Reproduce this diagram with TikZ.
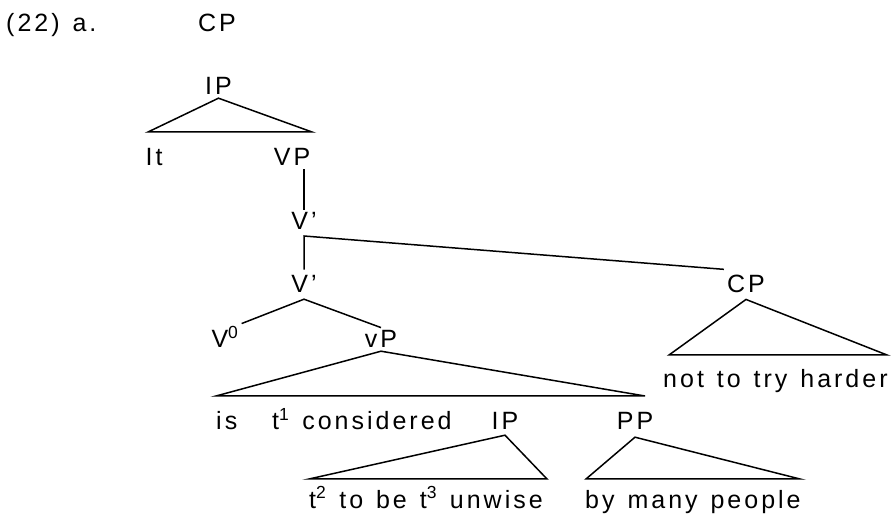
\documentclass[tikz,border=0pt]{standalone}
\usepackage{fontspec}
\setmainfont{Liberation Sans}[LetterSpace=12, WordSpace=1.3]
\usetikzlibrary{positioning}

\begin{document}
\begin{tikzpicture}[
    x=1pt, y=-1pt,
    every node/.style={font=\fontsize{25}{29}\selectfont, inner sep=3pt, anchor=base},
    words/.style={anchor=base west, inner sep=0pt},
    branch/.style={line width=1.5pt}
]
\useasboundingbox (0,0) rectangle (892,518);
% Example number and root
\node[words] (exnum) at (6,32) {(22) a.};
\node (cproot) at (217,32) {CP};
% IP over It and VP
\node (iptop) at (218.5,95) {IP};
\coordinate (iptopL) at (148,132);
\coordinate (iptopR) at (312,132);
\draw[branch] (iptopL) -- (iptop.south) -- (iptopR) -- cycle;
\node (it) at (154,166) {It};
\node (vp) at (292,166) {VP};
% V' levels
\node (vbarA) at (304,230) {V'};
\node[inner ysep=6pt] (vbarB) at (304,293) {V'};
\coordinate[below=6pt of vbarA.base] (vjoin);
\draw[branch] (vbarA.north |- vp.south) -- (vbarA.north);
% Extraposed CP
\node[inner ysep=6pt] (cpext) at (746,293) {CP};
\draw[branch] (vbarB.north) -- (vjoin) -- (cpext.north west);
\coordinate (cpextL) at (669,355);
\coordinate (cpextR) at (887,355);
\draw[branch] (cpextL) -- (cpext.south) -- (cpextR) -- cycle;
\node[words] (harder) at (663,388) {not to try harder};
% V0 and vP
\node (vzero) at (225,348) {V\textsuperscript{0}};
\node (vlow) at (381,348) {vP};
\draw[branch] (vzero.north east) -- (vbarB.south) -- (vlow.north);
\coordinate (vlowL) at (216,396);
\coordinate (vlowR) at (645,396);
\draw[branch] (vlowL) -- (vlow.south) -- (vlowR) -- cycle;
% Material under vP
\node[words] (is) at (216,430) {is};
\node[words] (considered) at (272,430) {t\textsuperscript{1} considered};
\node[inner ysep=5pt] (iplow) at (505,430) {IP};
\node[inner ysep=7pt] (pp) at (635,430) {PP};
% IP and PP triangles
\coordinate (iplowL) at (309,479);
\coordinate (iplowR) at (547,479);
\draw[branch] (iplowL) -- (iplow.south) -- (iplowR) -- cycle;
\coordinate (ppL) at (586,479);
\coordinate (ppR) at (800,479);
\draw[branch] (ppL) -- (pp.south) -- (ppR) -- cycle;
\node[words] (unwise) at (309,508) {t\textsuperscript{2} to be t\textsuperscript{3} unwise};
\node[words] (people) at (585,508) {by many people};
\end{tikzpicture}
\end{document}
